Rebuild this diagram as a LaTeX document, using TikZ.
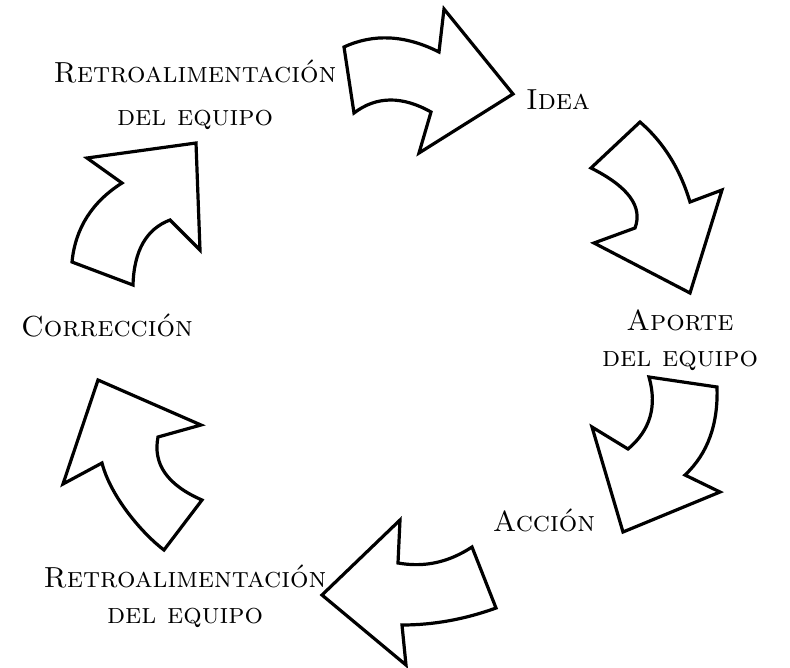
\documentclass[tikz,border=0pt]{standalone}
\usepackage{fontspec}
\begin{document}
\begin{tikzpicture}[x=1pt,y=-1pt,
  arr/.style={draw=black,line width=3.2pt,line join=miter,miter limit=20,fill=white},
  lab/.style={inner sep=0pt,font=\fontsize{29}{35}\selectfont\scshape}]
\useasboundingbox (0,0) rectangle (790,667);
% arrow 1 (top)
\draw[arr] (344,47) .. controls (373.7,33.3) and (405.3,35) .. (439,52) -- (444,9) -- (513,94) -- (419,153) -- (431,112) .. controls (402,95.7) and (376.3,96) .. (354,113) -- cycle;
% arrow 2 (upper right)
\draw[arr] (640,122) -- (591,168) .. controls (628.3,186.7) and (643,206.7) .. (635,228) -- (594,243) -- (690,293) -- (722,190) -- (690,202) .. controls (680,168.7) and (663.3,142) .. cycle;
% arrow 3 (lower right)
\draw[arr] (649,377) -- (717,387) .. controls (718.3,424.3) and (707.7,453.7) .. (685,475) -- (720,492) -- (623,532) -- (592,427) -- (628,449) .. controls (650.3,430.3) and (657.3,406.3) .. cycle;
% arrow 4 (bottom)
\draw[arr] (400,520) -- (398,563) .. controls (424.7,567.7) and (448.7,562.3) .. (472,547) -- (496,608) .. controls (464.7,619.3) and (433.3,625) .. (402,625) -- (406,665) -- (322,595) -- cycle;
% arrow 5 (lower left)
\draw[arr] (98,380) -- (201,425) -- (158,437) .. controls (152.7,464) and (167.3,485) .. (202,500) -- (164,550) .. controls (144,535) and (111,498) .. (102,463) -- (63,484) -- cycle;
% arrow 6 (upper left)
\draw[arr] (87,158) -- (196,143) -- (200,250) -- (170,220) .. controls (146.3,229) and (134,250.7) .. (133,285) -- (72,262) .. controls (75.3,228.3) and (92,202) .. (122,183) -- cycle;
% labels
\node[lab,anchor=base] (fbtopa) at (195,82) {Retroalimentación};
\node[lab,anchor=base] (fbtopb) at (195,125) {del equipo};
\node[lab,anchor=base] (idea) at (558,109) {Idea};
\node[lab,anchor=base] (aportea) at (680,330) {Aporte};
\node[lab,anchor=base] (aporteb) at (680,366) {del equipo};
\node[lab,anchor=base] (correccion) at (107,336) {Corrección};
\node[lab,anchor=base] (accion) at (544,531) {Acción};
\node[lab,anchor=base] (fbbota) at (185,587) {Retroalimentación};
\node[lab,anchor=base] (fbbotb) at (185,623) {del equipo};
\end{tikzpicture}
\end{document}
